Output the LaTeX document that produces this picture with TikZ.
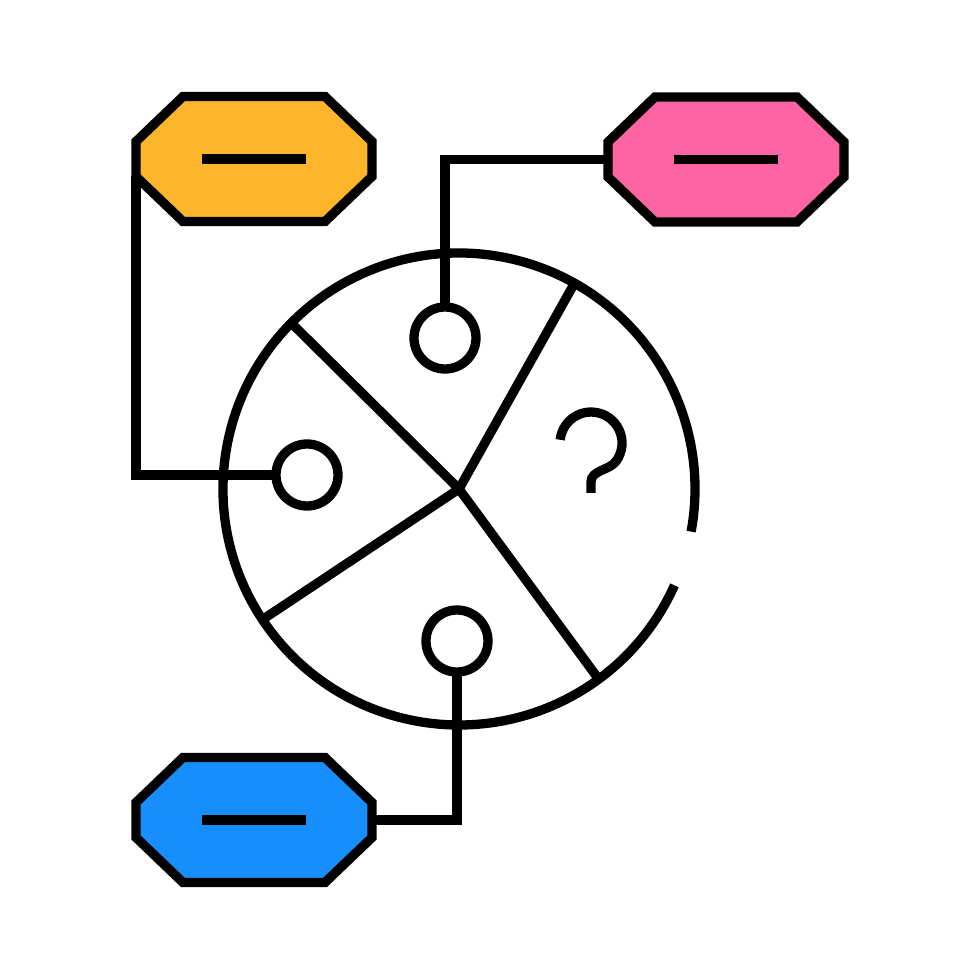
\documentclass[tikz,border=0pt]{standalone}
\definecolor{tagorange}{HTML}{FDB62B}
\definecolor{tagpink}{HTML}{FF64A2}
\definecolor{tagblue}{HTML}{168EFB}
\tikzset{
  ink/.style={line width=0.93mm, draw=black},
  tagbox/.style={rectangle, minimum width=23.6mm, minimum height=12.5mm,
    inner sep=0pt, outer sep=0pt},
  dot/.style={ink, circle, minimum size=6.2mm, inner sep=0pt, outer sep=0pt},
  wire/.style={ink, line cap=butt},
}
\newcommand{\tagshape}[2]{%
  \draw[ink, fill=#2]
    ([shift={(-71,62.5)}]#1.center) -- ([shift={(71,62.5)}]#1.center)
    -- ([shift={(118,17.5)}]#1.center) -- ([shift={(118,-17.5)}]#1.center)
    -- ([shift={(71,-62.5)}]#1.center) -- ([shift={(-71,-62.5)}]#1.center)
    -- ([shift={(-118,-17.5)}]#1.center) -- ([shift={(-118,17.5)}]#1.center)
    -- cycle;
  \draw[wire] ([shift={(-52,0)}]#1.center) -- ([shift={(52,0)}]#1.center);}
\begin{document}
\begin{tikzpicture}[x=0.1mm,y=0.1mm]
\fill[white] (0,0) rectangle (980,980);
\useasboundingbox (0,0) rectangle (980,980);
% tags
\node[tagbox] (o) at (254,821) {};
\node[tagbox] (p) at (726,820.5) {};
\node[tagbox] (b) at (254,160) {};
% pie
\coordinate (C) at (459,491);
\draw[wire] (C) ++(-10.4:236) arc[start angle=-10.4, end angle=335.9, radius=236];
\draw[wire] (C) -- ++(135.3:236);
\draw[wire] (C) -- ++(60.7:236);
\draw[wire] (C) -- ++(213.6:236);
\draw[wire] (C) -- ++(306.3:236);
% dots
\node[dot] (A) at (445,642) {};
\node[dot] (B) at (307,505) {};
\node[dot] (D) at (457,339) {};
% connectors
\draw[wire] ([yshift=-1.75mm]o.west) |- (B.west);
\draw[wire] (p.west) -| (A.north);
\draw[wire] (b.east) -| (D.south);
\tagshape{o}{tagorange}
\tagshape{p}{tagpink}
\tagshape{b}{tagblue}
% question mark
\draw[wire] (560.2,540.2) arc[start angle=174, end angle=-35, radius=31]
  .. controls (609.5,509.4) and (591,510) .. (591,498) -- (591,487);
\end{tikzpicture}
\end{document}
